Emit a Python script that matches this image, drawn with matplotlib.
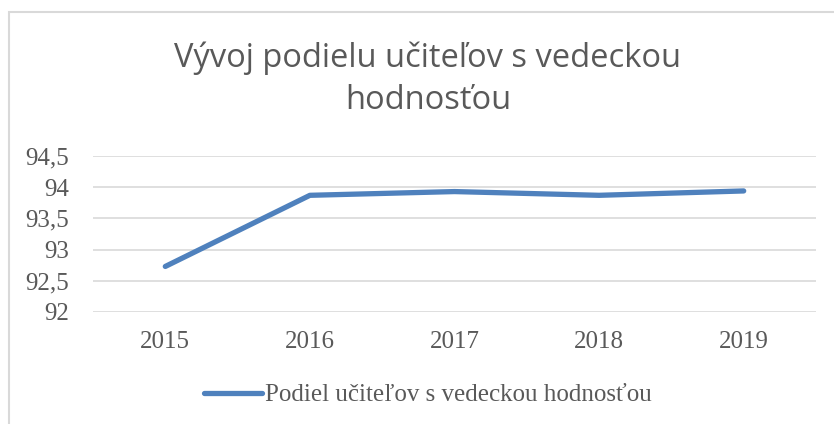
import matplotlib
matplotlib.use("Agg")
import matplotlib.pyplot as plt
import matplotlib.patches as mpatch
from matplotlib.ticker import FuncFormatter

# data
roky = ["2015", "2016", "2017", "2018", "2019"]
podiel = [92.73, 93.87, 93.93, 93.87, 93.94]
nazov_serie = "Podiel učiteľov s vedeckou hodnosťou"
titulok = "Vývoj podielu učiteľov s vedeckou\nhodnosťou"

text_col = "#595959"
line_col = "#4F81BD"
grid_col = "#D9D9D9"
serif = ["Liberation Serif", "DejaVu Serif"]

fig = plt.figure(figsize=(8.34, 4.24), dpi=100)
fig.patch.set_facecolor("white")

# light frame of the chart area (cut at right/bottom in the reference)
fig.add_artist(mpatch.Rectangle((8.5 / 834, -0.1), 1.2, (424 - 12.5) / 424 + 0.1,
                                transform=fig.transFigure, fill=False,
                                edgecolor=grid_col, linewidth=1.5))

ax = fig.add_axes([93 / 834, 1 - 312 / 424, (816 - 93) / 834, (312 - 156) / 424])
x = list(range(len(roky)))
ax.plot(x, podiel, color=line_col, linewidth=3.8, solid_capstyle="round",
        solid_joinstyle="round", label=nazov_serie)

ax.set_xlim(-0.5, len(roky) - 0.5)
ax.set_ylim(92, 94.5)
ax.set_yticks([92, 92.5, 93, 93.5, 94, 94.5])
ax.yaxis.set_major_formatter(FuncFormatter(lambda v, p: f"{v:g}".replace(".", ",")))
ax.set_xticks(x)
ax.set_xticklabels(roky)
ax.grid(axis="y", color=grid_col, linewidth=1.2)
ax.set_axisbelow(True)
for s in ax.spines.values():
    s.set_visible(False)
ax.tick_params(length=0, colors=text_col, labelsize=18)
ax.tick_params(axis="y", pad=17)
ax.tick_params(axis="x", pad=14)
for lab in ax.get_xticklabels() + ax.get_yticklabels():
    lab.set_family(serif)

# title and legend are centred on the (wider) chart area, not the image
cx = 428 / 834
fig.text(cx, 1 - 79 / 424, titulok, ha="center", va="center", fontsize=23.5,
         color=text_col, family=["Open Sans", "DejaVu Sans"],
         linespacing=1.35)

leg = fig.legend(loc="center", bbox_to_anchor=(cx, 1 - 395 / 424), frameon=False,
                 prop={"family": serif, "size": 18}, handlelength=2.3,
                 handletextpad=0.15)
for t in leg.get_texts():
    t.set_color(text_col)

fig.savefig("out.png", dpi=100)
